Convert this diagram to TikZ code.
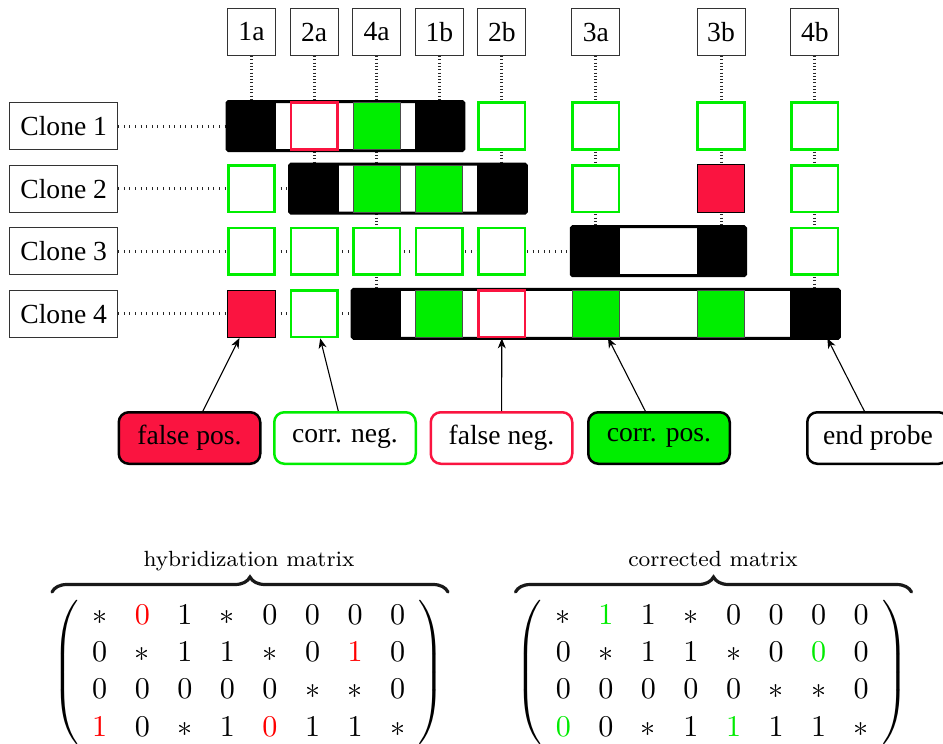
\documentclass[tikz,border=0pt]{standalone}
\usepackage{fontspec}
\usepackage{amsmath}
\newfontfamily\tms{Liberation Serif}
\usetikzlibrary{arrows.meta,decorations.pathreplacing}

\definecolor{fpred}{RGB}{250,20,64}
\definecolor{okgreen}{RGB}{0,238,0}
\definecolor{mred}{RGB}{255,0,0}
\definecolor{mgreen}{RGB}{0,235,0}

\pgfdeclarelayer{dots}
\pgfdeclarelayer{bars}
\pgfsetlayers{dots,bars,main}

\tikzset{
  lbl/.style={font=\tms\fontsize{27.6}{33}\selectfont, inner sep=0pt},
  probe/.style={lbl, draw=black!80, line width=1pt, minimum width=48pt, minimum height=47pt},
  clone/.style={lbl, draw=black!80, line width=1pt, minimum width=108pt, minimum height=47pt},
  cell/.style={minimum size=46.5pt, inner sep=0pt, line width=2.6pt, fill=white},
  cneg/.style={cell, draw=okgreen},
  fneg/.style={cell, draw=fpred},
  cpos/.style={cell, minimum size=47pt, line width=1pt, draw=black!70, fill=okgreen},
  fpos/.style={cell, minimum size=47.5pt, line width=1pt, draw=black, fill=fpred},
  endp/.style={cell, minimum size=48pt, line width=1pt, draw=black, fill=black},
  clonebar/.style={draw=black, fill=white, line width=3pt, rounded corners=1.5pt},
  hlink/.style={black!85, line width=3pt, dash pattern=on 0.8pt off 4.8pt},
  vlink/.style={black!85, line width=3pt, dash pattern=on 0.8pt off 2.5pt},
  legend/.style={lbl, rounded corners=10pt, line width=2.5pt, minimum width=141.5pt, minimum height=51.5pt},
  pointer/.style={line width=1.1pt, -{Stealth[length=10pt,width=8pt,inset=3pt]}},
  mtx/.style={anchor=center, inner sep=0pt, scale=2.75},
  mtitle/.style={anchor=base, inner sep=0pt, scale=2.75, font=\fontsize{8}{9.6}\selectfont},
  overbr/.style={line width=3.2pt, line cap=round, black!90,
    decorate, decoration={brace, amplitude=15pt}},
}

\begin{document}
\begin{tikzpicture}[x=1pt, y=-1pt]
\useasboundingbox (0,0) rectangle (943,744);

% probes
\node[probe] (p1a) at (251.5,32) {1a};
\node[probe] (p2a) at (314.1,32) {2a};
\node[probe] (p4a) at (376.7,32) {4a};
\node[probe] (p1b) at (439.3,32) {1b};
\node[probe] (p2b) at (501.9,32) {2b};
\node[probe] (p3a) at (595.8,32) {3a};
\node[probe] (p3b) at (721.0,32) {3b};
\node[probe] (p4b) at (814.9,32) {4b};

% clones
\node[clone] (cl1) at (63.7,126)   {Clone 1};
\node[clone] (cl2) at (63.7,188.6) {Clone 2};
\node[clone] (cl3) at (63.7,251.2) {Clone 3};
\node[clone] (cl4) at (63.7,313.8) {Clone 4};

% clone 1
\node[endp] (r1c0) at (251.5,126) {};
\node[fneg] (r1c1) at (314.1,126) {};
\node[cpos] (r1c2) at (376.7,126) {};
\node[endp] (r1c3) at (439.3,126) {};
\node[cneg] (r1c4) at (501.9,126) {};
\node[cneg] (r1c5) at (595.8,126) {};
\node[cneg] (r1c6) at (721.0,126) {};
\node[cneg] (r1c7) at (814.9,126) {};

% clone 2
\node[cneg] (r2c0) at (251.5,188.6) {};
\node[endp] (r2c1) at (314.1,188.6) {};
\node[cpos] (r2c2) at (376.7,188.6) {};
\node[cpos] (r2c3) at (439.3,188.6) {};
\node[endp] (r2c4) at (501.9,188.6) {};
\node[cneg] (r2c5) at (595.8,188.6) {};
\node[fpos] (r2c6) at (721.0,188.6) {};
\node[cneg] (r2c7) at (814.9,188.6) {};

% clone 3
\node[cneg] (r3c0) at (251.5,251.2) {};
\node[cneg] (r3c1) at (314.1,251.2) {};
\node[cneg] (r3c2) at (376.7,251.2) {};
\node[cneg] (r3c3) at (439.3,251.2) {};
\node[cneg] (r3c4) at (501.9,251.2) {};
\node[endp] (r3c5) at (595.8,251.2) {};
\node[endp] (r3c6) at (721.0,251.2) {};
\node[cneg] (r3c7) at (814.9,251.2) {};

% clone 4
\node[fpos] (r4c0) at (251.5,313.8) {};
\node[cneg] (r4c1) at (314.1,313.8) {};
\node[endp] (r4c2) at (376.7,313.8) {};
\node[cpos] (r4c3) at (439.3,313.8) {};
\node[fneg] (r4c4) at (501.9,313.8) {};
\node[cpos] (r4c5) at (595.8,313.8) {};
\node[cpos] (r4c6) at (721.0,313.8) {};
\node[endp] (r4c7) at (814.9,313.8) {};

% clone extents
\begin{pgfonlayer}{bars}
  \draw[clonebar] (r1c0.north west) rectangle (r1c3.south east);
  \draw[clonebar] (r2c1.north west) rectangle (r2c4.south east);
  \draw[clonebar] (r3c5.north west) rectangle (r3c6.south east);
  \draw[clonebar] (r4c2.north west) rectangle (r4c7.south east);
\end{pgfonlayer}

% clone and probe links
\begin{pgfonlayer}{dots}
  \draw[hlink] (cl1) -- (r1c0);
  \draw[hlink] (cl2) -- (r2c1);
  \draw[hlink] (cl3) -- (r3c5);
  \draw[hlink] (cl4) -- (r4c2);
  \draw[vlink] (p1a) -- (r1c0);
  \draw[vlink] (p2a) -- (r2c1);
  \draw[vlink] (p4a) -- (r4c2);
  \draw[vlink] (p1b) -- (r1c3);
  \draw[vlink] (p2b) -- (r2c4);
  \draw[vlink] (p3a) -- (r3c5);
  \draw[vlink] (p3b) -- (r3c6);
  \draw[vlink] (p4b) -- (r4c7);
\end{pgfonlayer}

% legend
\node[legend, draw=black, fill=fpred]    (lfp) at (189.5,438) {false pos.};
\node[legend, draw=okgreen, fill=white]  (lcn) at (345,438)   {corr. neg.};
\node[legend, draw=fpred, fill=white]    (lfn) at (501.5,438) {false neg.};
\node[legend, draw=black, fill=okgreen]  (lcp) at (659,438)   {corr. pos.};
\node[legend, draw=black, fill=white]    (lep) at (878,438)   {end probe};

\draw[pointer] (lfp) -- (r4c0);
\draw[pointer] (lcn) -- (r4c1);
\draw[pointer] (lfn) -- (r4c4);
\draw[pointer] (lcp) -- (r4c5);
\draw[pointer] (lep) -- (r4c7);

% hybridization matrix
\node[mtx] (hyb) at (248.7,672.7) {\fontsize{10.95}{13.6}\selectfont
  $\left(\begin{array}{cccccccc}
    \ast & \textcolor{mred}{0} & 1 & \ast & 0 & 0 & 0 & 0\\
    0 & \ast & 1 & 1 & \ast & 0 & \textcolor{mred}{1} & 0\\
    0 & 0 & 0 & 0 & 0 & \ast & \ast & 0\\
    \textcolor{mred}{1} & 0 & \ast & 1 & \textcolor{mred}{0} & 1 & 1 & \ast
  \end{array}\right)$};
\coordinate (hybL) at (52,592);
\coordinate (hybR) at (448,592);
\draw[overbr] (hybL) -- (hybR);
\node[mtitle] (hybT) at (249,566.5) {hybridization matrix};

% corrected matrix
\node[mtx] (cor) at (712.3,672.7) {\fontsize{10.95}{13.6}\selectfont
  $\left(\begin{array}{cccccccc}
    \ast & \textcolor{mgreen}{1} & 1 & \ast & 0 & 0 & 0 & 0\\
    0 & \ast & 1 & 1 & \ast & 0 & \textcolor{mgreen}{0} & 0\\
    0 & 0 & 0 & 0 & 0 & \ast & \ast & 0\\
    \textcolor{mgreen}{0} & 0 & \ast & 1 & \textcolor{mgreen}{1} & 1 & 1 & \ast
  \end{array}\right)$};
\coordinate (corL) at (515.5,592);
\coordinate (corR) at (911.5,592);
\draw[overbr] (corL) -- (corR);
\node[mtitle] (corT) at (713,566.5) {corrected matrix};

\end{tikzpicture}
\end{document}
